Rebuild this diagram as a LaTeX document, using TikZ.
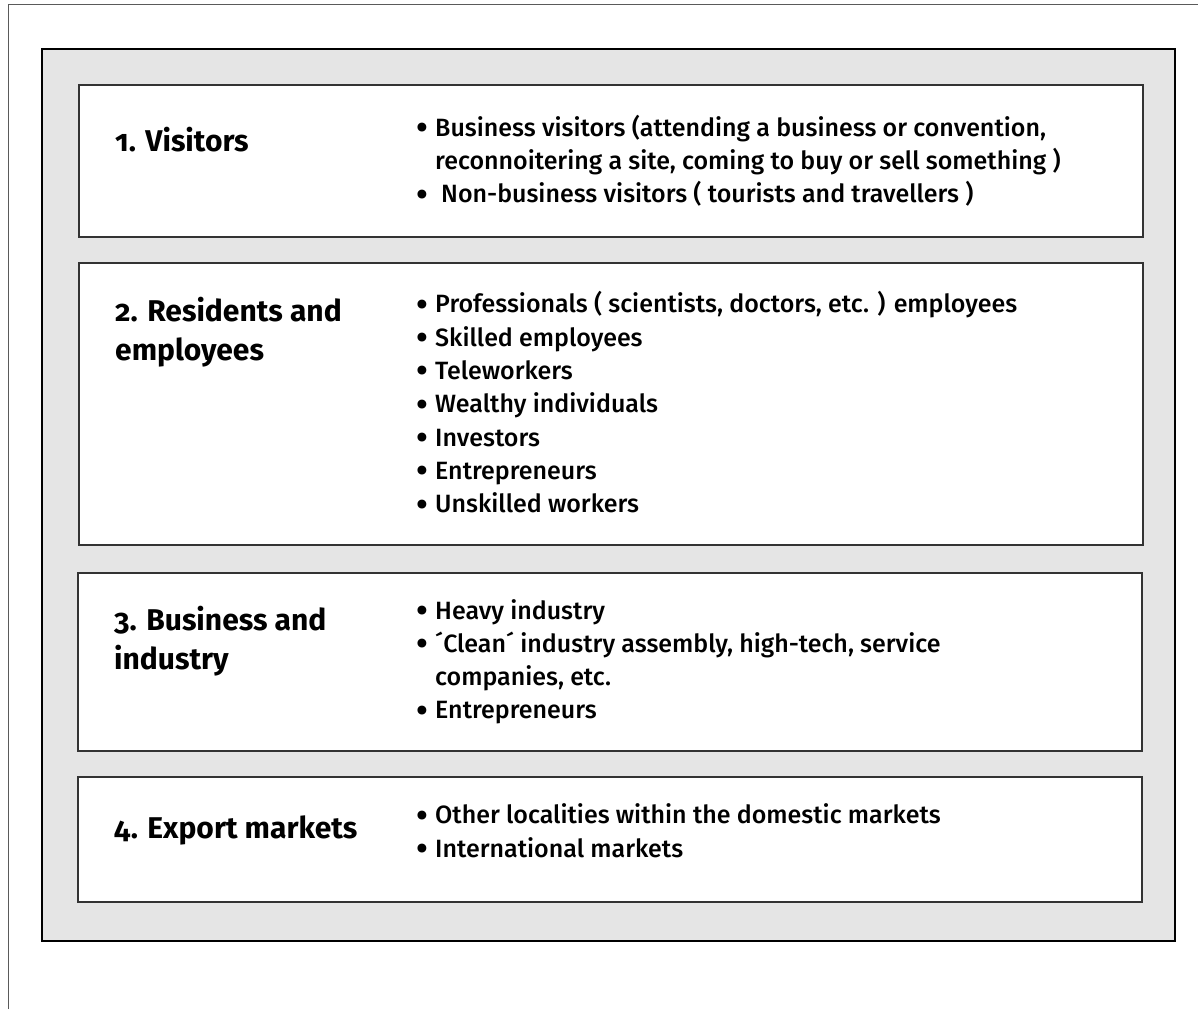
\documentclass[tikz,border=0pt]{standalone}
\usepackage{fontspec}
\setmainfont{Fira Sans}[Numbers=OldStyle]
\newfontfamily\itemfont{Fira Sans Medium}
\usetikzlibrary{positioning}
\definecolor{panelGrey}{RGB}{229, 229, 229}
\definecolor{boxLine}{RGB}{51, 51, 51}
\definecolor{frameLine}{RGB}{90, 90, 90}
\newcommand{\lBul}{\makebox[19pt][l]{\raisebox{-0.14em}{\scalebox{1.4}{\textbullet}}}}
\newcommand{\lIndent}{\hspace*{19pt}}
\newcommand{\lVisitors}{1. Visitors}
\newcommand{\lResidents}{2. Residents and\\employees}
\newcommand{\lBusiness}{3. Business and\\industry}
\newcommand{\lExport}{4. Export markets}
\newcommand{\lVisitorsList}{\lBul Business visitors (attending a business or convention,\\\lIndent reconnoitering a site, coming to buy or sell something )\\\lBul\hspace{6pt}Non-business visitors ( tourists and travellers )}
\newcommand{\lResidentsList}{\lBul Professionals ( scientists, doctors, etc. ) employees\\\lBul Skilled employees\\\lBul Teleworkers\\\lBul Wealthy individuals\\\lBul Investors\\\lBul Entrepreneurs\\\lBul Unskilled workers}
\newcommand{\lBusinessList}{\lBul Heavy industry\\\lBul ´Clean´ industry assembly, high-tech, service\\\lIndent companies, etc.\\\lBul Entrepreneurs}
\newcommand{\lExportList}{\lBul Other localities within the domestic markets\\\lBul International markets}

\begin{document}
\begin{tikzpicture} [
        x=1pt, y=-1pt,
        panel/.style={draw=black, line width=2.6pt, fill=panelGrey},
        group box/.style={draw=boxLine, line width=1.6pt, fill=white, anchor=north west, inner sep=0, minimum width=1064pt},
        group head/.style={anchor=west, align=left, inner sep=0, font=\bfseries\fontsize{30}{39}\selectfont},
        group list/.style={anchor=west, align=left, inner sep=0, font=\itemfont\fontsize{25}{33.3}\selectfont}
    ]
    \useasboundingbox (0,0) rectangle (1198,1009);

    % frame and panel
    \draw[frameLine, line width=1pt] (8,1009) -- (8,4.5) -- (1198,4.5);
    \path[panel] (42,49) rectangle (1175,941);

    \path (78,84) node[group box, minimum height=152pt] (box visitors) {};
    \path (78,262) node[group box, minimum height=282pt] (box residents) {};
    \path (77,572) node[group box, minimum height=178pt] (box business) {};
    \path (77,776) node[group box, minimum height=125pt] (box export) {};

    \path (box visitors.north west) ++(37,56) node[group head] (head visitors) {\lVisitors};
    \path (box residents.north west) ++(37,70) node[group head] (head residents) {\lResidents};
    \path (box business.north west) ++(37,69) node[group head] (head business) {\lBusiness};
    \path (box export.north west) ++(37,54) node[group head] (head export) {\lExport};

    \path (box visitors.west) ++(338,0) node[group list] (list visitors) {\lVisitorsList};
    \path (box residents.west) ++(338,0) node[group list] (list residents) {\lResidentsList};
    \path (box business.west) ++(339,0) node[group list] (list business) {\lBusinessList};
    \path (box export.west) ++(339,-7) node[group list] (list export) {\lExportList};

\end{tikzpicture}
\end{document}
